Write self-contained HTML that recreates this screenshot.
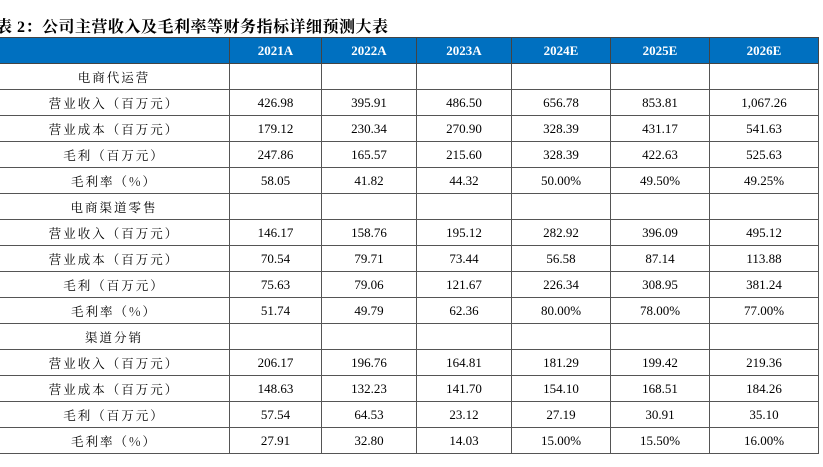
<!DOCTYPE html>
<html><head><meta charset="utf-8"><style>
html,body{margin:0;padding:0;background:#fff;width:823px;height:467px;overflow:hidden;position:relative}
#title{position:absolute;left:-4px;top:14px;font:bold 16px "Liberation Serif","Noto Serif CJK SC",serif;color:#000;white-space:nowrap;letter-spacing:0.5px}
table{position:absolute;left:-2px;top:37px;border-collapse:collapse;table-layout:fixed;font:13px "Liberation Serif","Noto Serif CJK SC",serif;color:#000}
td,th{border:1px solid #555;height:25px;padding:0;text-align:center;white-space:nowrap}
th{background:#0070C0;color:#fff;font-weight:bold;font-size:13px;border-color:#444}
td.l{letter-spacing:2px;font-family:"Noto Serif CJK SC",serif;font-size:12.5px}
</style></head><body>
<div id="title">表 2：公司主营收入及毛利率等财务指标详细预测大表</div>
<table>
<colgroup><col style="width:231px"><col style="width:92px"><col style="width:95px"><col style="width:95px"><col style="width:99px"><col style="width:99px"><col style="width:109px"></colgroup>
<tbody id="tb"></tbody>
</table>
<script>
const years=["2021A","2022A","2023A","2024E","2025E","2026E"];
const sections=["电商代运营","电商渠道零售","渠道分销"];
const labels=["营业收入（百万元）","营业成本（百万元）","毛利（百万元）","毛利率（%）"];
const sec1=[["426.98","395.91","486.50","656.78","853.81","1,067.26"],["179.12","230.34","270.90","328.39","431.17","541.63"],["247.86","165.57","215.60","328.39","422.63","525.63"],["58.05","41.82","44.32","50.00%","49.50%","49.25%"]];
const sec2=[["146.17","158.76","195.12","282.92","396.09","495.12"],["70.54","79.71","73.44","56.58","87.14","113.88"],["75.63","79.06","121.67","226.34","308.95","381.24"],["51.74","49.79","62.36","80.00%","78.00%","77.00%"]];
const sec3=[["206.17","196.76","164.81","181.29","199.42","219.36"],["148.63","132.23","141.70","154.10","168.51","184.26"],["57.54","64.53","23.12","27.19","30.91","35.10"],["27.91","32.80","14.03","15.00%","15.50%","16.00%"]];
const data=[sec1,sec2,sec3];
const tb=document.getElementById('tb');
let h=document.createElement('tr');


h.appendChild(document.createElement('th'));
years.forEach(y=>{const th=document.createElement('th');th.textContent=y;


h.appendChild(th);});
tb.appendChild(h);
sections.forEach((s,si)=>{
 const r=document.createElement('tr');
 
 
 const c=document.createElement('td');c.className='l';c.textContent=s;
 
 
 r.appendChild(c);
 for(let i=0;i<6;i++)r.appendChild(document.createElement('td'));
 tb.appendChild(r);
 data[si].forEach((vals,li)=>{
  const rr=document.createElement('tr');
  
  
  const lc=document.createElement('td');lc.className='l';lc.textContent=labels[li];
  
  
  rr.appendChild(lc);
  vals.forEach(v=>{const td=document.createElement('td');td.textContent=v;
   
   
   rr.appendChild(td);});
  tb.appendChild(rr);
 });
});
</script>
</body></html>
